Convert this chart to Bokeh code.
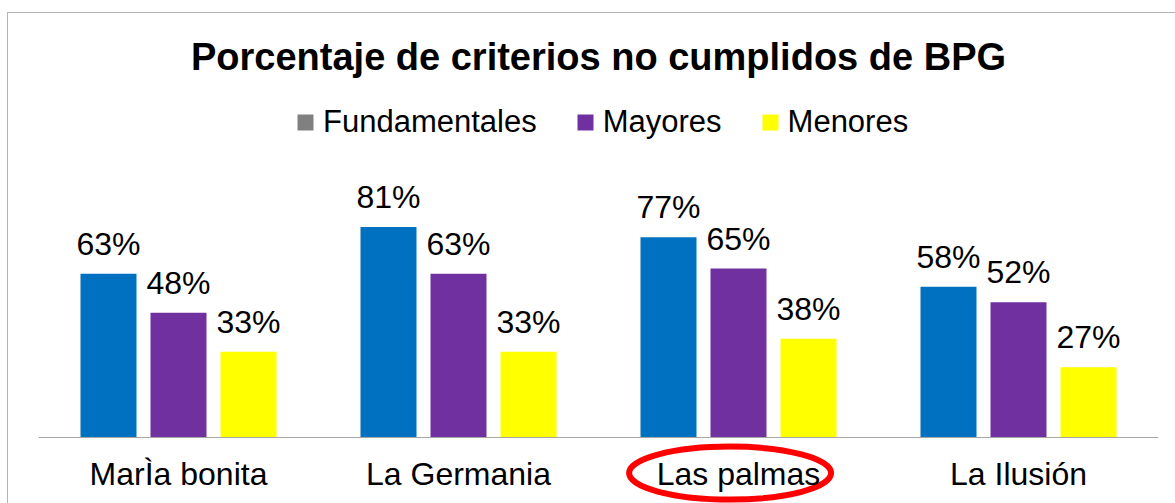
import numpy as np
from bokeh.plotting import figure
from bokeh.models import (ColumnDataSource, FactorRange, Range1d, Legend, LegendItem,
                          Label)
from bokeh.transform import dodge
from bokeh.core.properties import value
from bokeh.embed import file_html
from bokeh.resources import INLINE

# ---- data ----
categories = ["MarÌa bonita", "La Germania", "Las palmas", "La Ilusión"]
series = ["Fundamentales", "Mayores", "Menores"]
fundamentales = [0.63, 0.81, 0.77, 0.58]
mayores = [0.48, 0.63, 0.65, 0.52]
menores = [0.33, 0.33, 0.38, 0.27]
title_text = "Porcentaje de criterios no cumplidos de BPG"
highlighted = ["Las palmas"]

FONT = "Liberation Sans"
C_FUND = "#0070C0"
C_MAY = "#7030A0"
C_MEN = "#FFFF00"
C_LEG_FUND = "#808080"

def pct(vals):
    return [f"{round(v * 100)}%" for v in vals]

src = ColumnDataSource(dict(
    cat=categories,
    fund=fundamentales, may=mayores, men=menores,
    fund_l=pct(fundamentales), may_l=pct(mayores), men_l=pct(menores),
))

W, H = 1175, 503
p = figure(x_range=FactorRange(*categories, range_padding=0),
           y_range=Range1d(-66 / 260, 437 / 260),
           width=W, height=H,
           output_backend="svg", toolbar_location=None,
           y_axis_location=None,
           min_border_left=38, min_border_right=17,
           min_border_top=0, min_border_bottom=0)

p.xgrid.visible = False
p.ygrid.visible = False
p.outline_line_color = None
p.border_fill_alpha = 0
p.background_fill_alpha = 0
p.styles = {
    "background": "linear-gradient(#b3b3b3,#b3b3b3) 7px 12px / 100% 1px no-repeat, "
                  "linear-gradient(#b3b3b3,#b3b3b3) 7px 12px / 1px 100% no-repeat, #ffffff"
}

offsets = [-0.25, 0.0, 0.25]
cols = ["fund", "may", "men"]
colors = [C_FUND, C_MAY, C_MEN]
renderers = []
for off, col, c in zip(offsets, cols, colors):
    r = p.vbar(x=dodge("cat", off, range=p.x_range), top=col, width=0.2,
               source=src, fill_color=c, line_color=None)
    renderers.append(r)
    p.text(x=dodge("cat", off, range=p.x_range), y=col, text=col + "_l", source=src,
           text_font=value(FONT), text_font_size="32px", text_color="black",
           text_align="center", text_baseline="alphabetic", y_offset=-30)

# legend swatch for Fundamentales is grey in the original (zero-height bar)
dummy = p.vbar(x=categories[:1], top=[0], width=0.2,
               fill_color=C_LEG_FUND, line_color=None)

legend = Legend(items=[LegendItem(label=series[0], renderers=[dummy]),
                       LegendItem(label=series[1], renderers=[renderers[1]]),
                       LegendItem(label=series[2], renderers=[renderers[2]])],
                orientation="horizontal", location=(257, 363),
                glyph_width=20, glyph_height=20, label_standoff=8, spacing=38,
                padding=0, margin=0, border_line_color=None,
                background_fill_alpha=0,
                label_text_font=FONT, label_text_font_size="31px",
                label_text_color="black")
p.add_layout(legend)

p.add_layout(Label(x=560, y=447, x_units="screen", y_units="screen",
                   text=title_text, text_font=FONT, text_font_size="38px",
                   text_font_style="bold", text_color="black",
                   text_align="center", text_baseline="alphabetic"))

ax = p.xaxis[0]
ax.fixed_location = 0
ax.axis_line_color = "#a6a6a6"
ax.axis_line_width = 1
ax.major_tick_in = 0
ax.major_tick_out = 0
ax.minor_tick_line_color = None
ax.major_label_standoff = 18
ax.major_label_text_font = FONT
ax.major_label_text_font_size = "32px"
ax.major_label_text_color = "black"

# red ellipse drawn around the highlighted category label
hl = ColumnDataSource(dict(cat=highlighted, y=[-0.137]))
p.ellipse(x=dodge("cat", -0.03, range=p.x_range), y="y", width=202, height=53,
          width_units="screen", height_units="screen", source=hl,
          fill_color=None, line_color="#FF0000", line_width=6)

open("out.html", "w").write(file_html(p, INLINE))
